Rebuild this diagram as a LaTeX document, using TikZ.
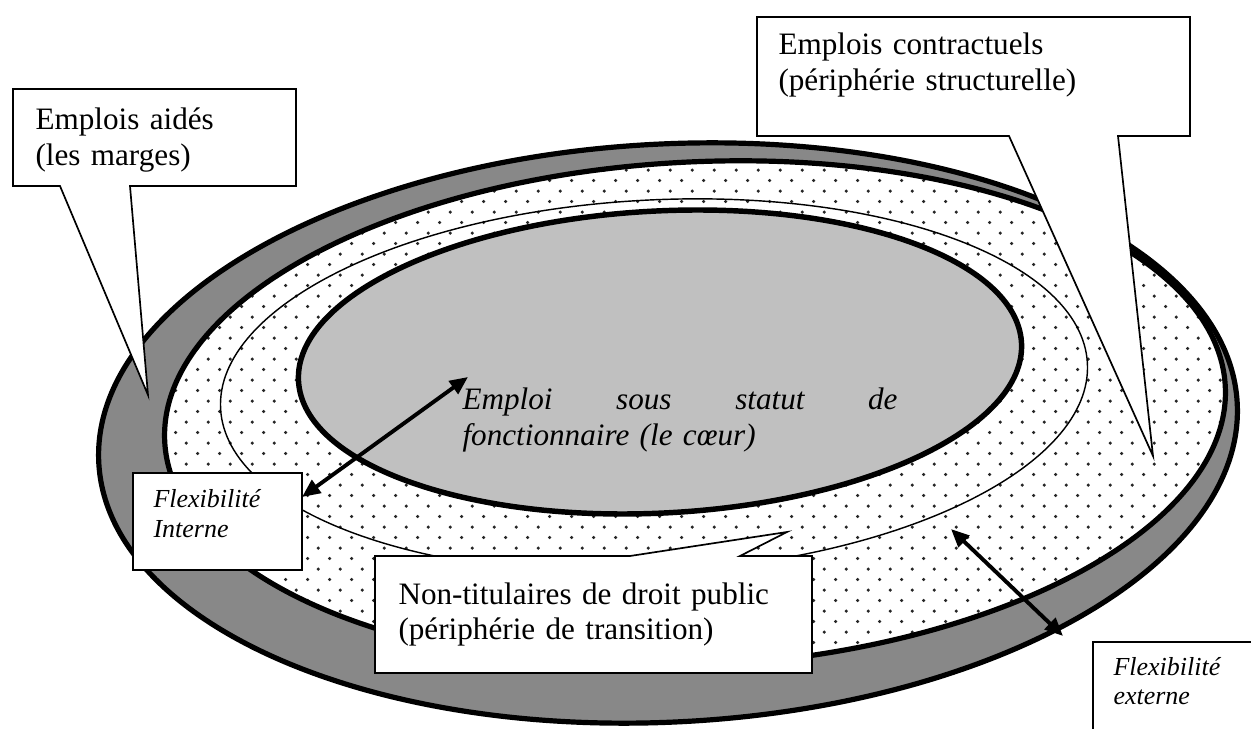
\documentclass[tikz,border=0pt]{standalone}
\usepackage{fontspec}
\setmainfont{Liberation Serif}
\usetikzlibrary{arrows.meta,patterns}

\definecolor{coeur}{RGB}{192,192,192}
\definecolor{marge}{RGB}{136,136,136}

% sparse staggered dots for the periphery
\pgfdeclarepatternformonly{sparse dots}{\pgfpointorigin}{\pgfpoint{8.35pt}{8.24pt}}{\pgfpoint{8.35pt}{8.24pt}}{
  \pgfpathcircle{\pgfpoint{1pt}{1pt}}{0.68pt}
  \pgfpathcircle{\pgfpoint{5.17pt}{5.12pt}}{0.68pt}
  \pgfusepath{fill}
}

\begin{document}
\begin{tikzpicture}[x=0.385pt, y=-0.385pt, font=\fontsize{12}{13.8}\selectfont, >={Triangle[length=7pt, width=6pt]},
  ring/.style = {draw, line width=2pt},
  callout/.style = {draw, fill=white, line width=0.65pt},
  boxtext/.style = {anchor=base west, align=left, inner sep=0pt},
  small/.style = {font=\fontsize{10}{11.5}\selectfont\itshape},
  flex/.style = {<->, line width=1.5pt}]
\useasboundingbox (0,0) rectangle (1251,729);

% rings
\draw[ring, fill=marge, rotate around={3:(668,433)}] (668,433) ellipse [x radius=570, y radius=289];
\draw[ring, preaction={fill=white}, pattern=sparse dots, pattern color=black!85, rotate around={3:(695,414)}] (695,414) ellipse [x radius=531, y radius=252];
\draw[line width=0.55pt, rotate around={3:(654,386)}] (654,386) ellipse [x radius=434, y radius=186];
\draw[ring, line width=2.1pt, fill=coeur, rotate around={3:(660,362)}] (660,362) ellipse [x radius=362, y radius=151];

% callouts
\coordinate (tipA) at (148,395);
\coordinate (tipB) at (1153,456);
\coordinate (tipC) at (787,532);
\draw[callout] (13,89) -- (296,89) -- (296,186) -- (130,186) -- (tipA) -- (60,186) -- (13,186) -- cycle;
\draw[callout] (757,17) -- (1190,17) -- (1190,136) -- (1118,136) -- (tipB) -- (1009,136) -- (757,136) -- cycle;
\draw[callout] (375,556) -- (630,556) -- (tipC) -- (740,556) -- (812,556) -- (812,673) -- (375,673) -- cycle;
\draw[callout] (133,473) rectangle (302,570);
\draw[callout] (1093,642) rectangle (1320,800);

% flexibility arrows
\coordinate (intA) at (302,497);
\coordinate (intB) at (468,377);
\coordinate (extA) at (951,529);
\coordinate (extB) at (1063,636);
\draw[flex] (intA) -- (intB);
\draw[flex] (extA) -- (extB);

% texts
\node[boxtext, text width=110pt] (aides) at (35,130) {Emplois aidés\\(les marges)};
\node[boxtext, text width=160pt] (contrat) at (778,55) {Emplois contractuels\\(périphérie structurelle)};
\node[boxtext, text width=160pt] (nontit) at (398,604) {Non-titulaires de droit public\\(périphérie de transition)};
\node[boxtext, small, text width=60pt] (flexint) at (153,508) {Flexibilité\\Interne};
\node[boxtext, small, text width=60pt] (flexext) at (1113,675) {Flexibilité\\externe};
\node[boxtext, text width=167.5pt, font=\fontsize{12}{13.8}\selectfont\itshape] (coeur) at (462,410) {Emploi\hfill sous\hfill statut\hfill de\\fonctionnaire (le cœur)};
\end{tikzpicture}
\end{document}
